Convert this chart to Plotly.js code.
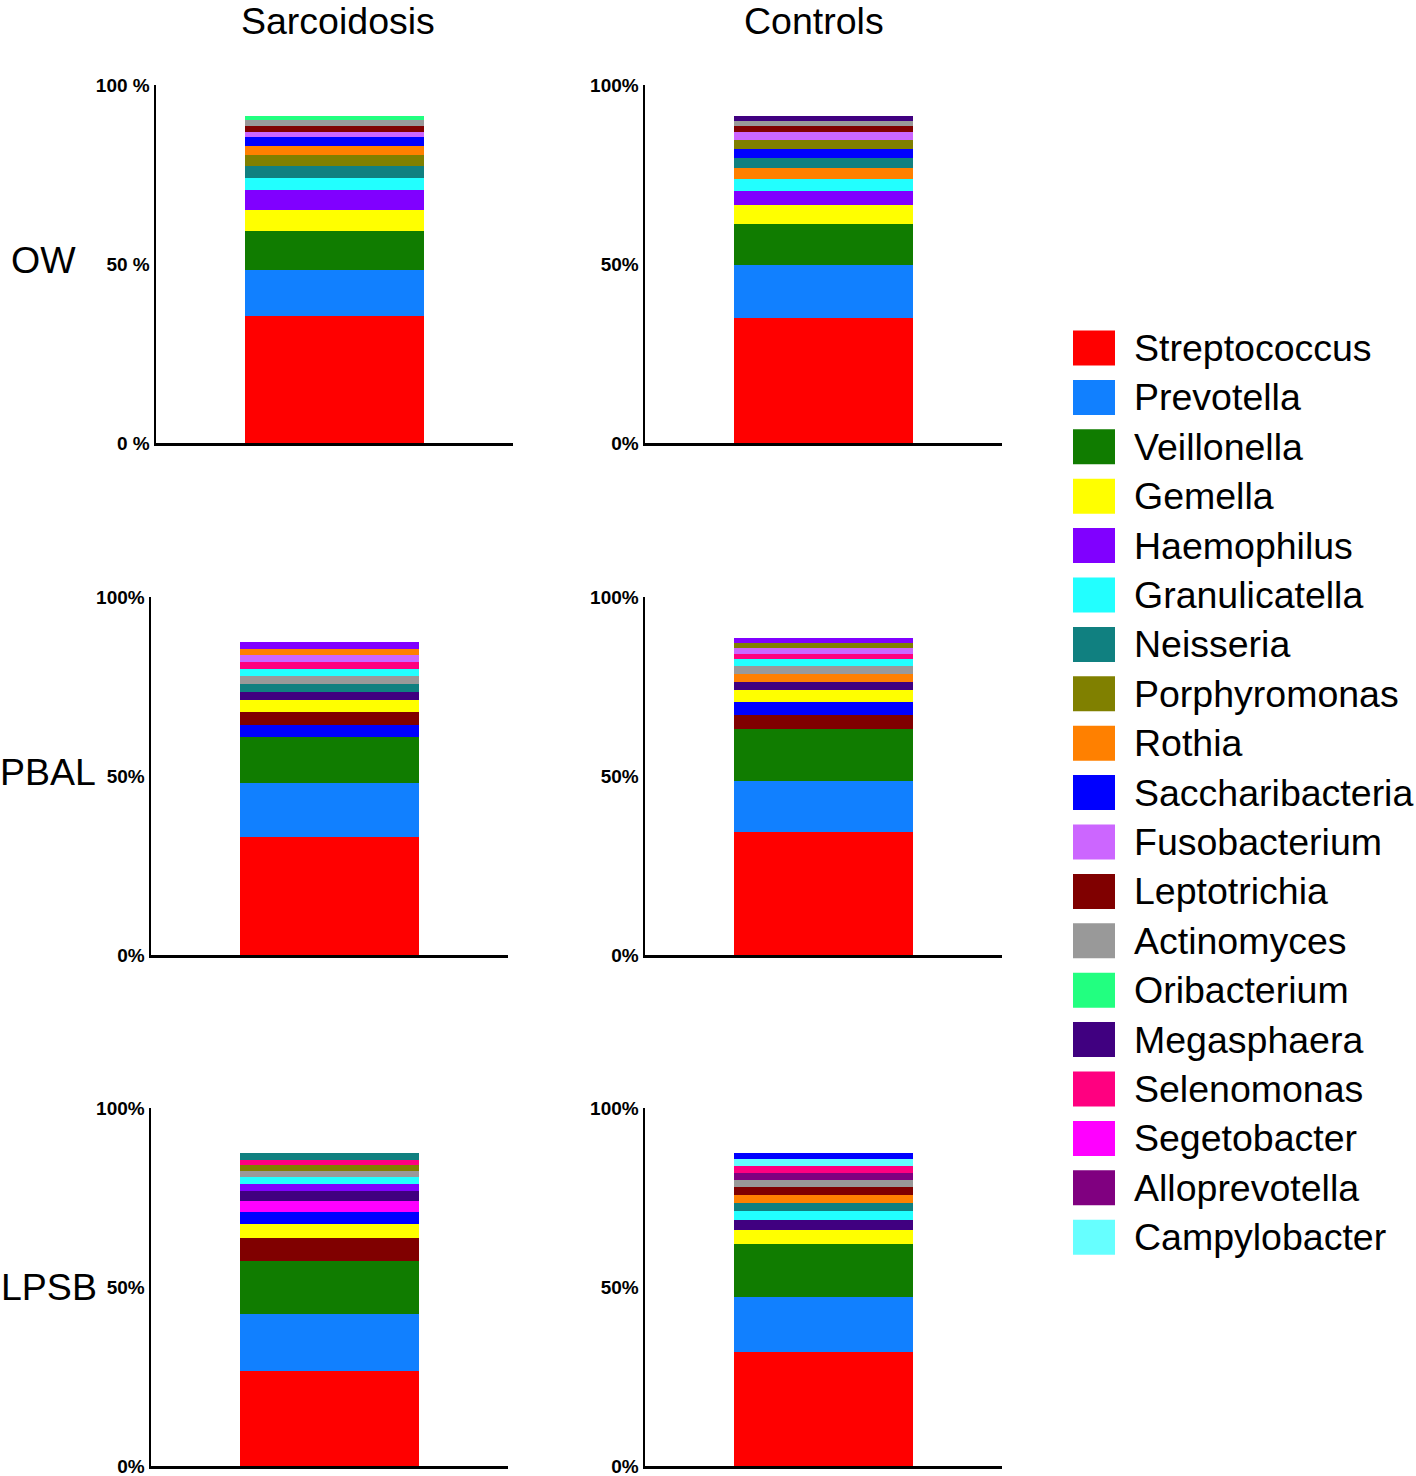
<!DOCTYPE html>
<html>
<head>
<meta charset="utf-8">
<script src="https://cdn.plot.ly/plotly-3.0.1.min.js"></script>
<style>html,body{margin:0;padding:0;background:#fff;}#chart{width:1416px;height:1476px;}</style>
</head>
<body>
<div id="chart"></div>
<script>
// Legend order and colours
const genera = ["Streptococcus","Prevotella","Veillonella","Gemella","Haemophilus","Granulicatella","Neisseria","Porphyromonas","Rothia","Saccharibacteria","Fusobacterium","Leptotrichia","Actinomyces","Oribacterium","Megasphaera","Selenomonas","Segetobacter","Alloprevotella","Campylobacter"];
const genusColors = ["#FF0000","#1180FF","#107C00","#FFFF00","#8000FF","#22FFFF","#108080","#808000","#FF8000","#0000FF","#CC66FF","#800000","#999999","#22FF80","#400080","#FF0080","#FF00FF","#800080","#66FFFF"];

const columnTitles = ["Sarcoidosis","Controls"];
const rowTitles = ["OW","PBAL","LPSB"];

// Each panel: genera in stacking order (bottom -> top) and relative abundance (%)
const owSarcGenera = ["Streptococcus","Prevotella","Veillonella","Gemella","Haemophilus","Granulicatella","Neisseria","Porphyromonas","Rothia","Saccharibacteria","Fusobacterium","Leptotrichia","Actinomyces","Oribacterium"];
const owSarcValues = [35.5,12.8,10.9,5.8,5.6,3.5,3.3,3.1,2.5,2.4,1.6,1.6,1.5,1.2];

const owCtrlGenera = ["Streptococcus","Prevotella","Veillonella","Gemella","Haemophilus","Granulicatella","Rothia","Neisseria","Saccharibacteria","Porphyromonas","Fusobacterium","Leptotrichia","Actinomyces","Megasphaera"];
const owCtrlValues = [34.9,14.8,11.5,5.2,3.9,3.4,3.0,2.8,2.6,2.4,2.3,1.7,1.5,1.4];

const pbalSarcGenera = ["Streptococcus","Prevotella","Veillonella","Saccharibacteria","Leptotrichia","Gemella","Megasphaera","Neisseria","Actinomyces","Granulicatella","Selenomonas","Fusobacterium","Rothia","Haemophilus"];
const pbalSarcValues = [33.0,15.1,12.7,3.5,3.5,3.3,2.3,2.2,2.2,2.1,2.0,1.9,1.8,1.8];

const pbalCtrlGenera = ["Streptococcus","Prevotella","Veillonella","Leptotrichia","Saccharibacteria","Gemella","Megasphaera","Rothia","Actinomyces","Granulicatella","Selenomonas","Fusobacterium","Porphyromonas","Haemophilus"];
const pbalCtrlValues = [34.4,14.2,14.4,4.0,3.7,3.2,2.4,2.2,2.2,1.9,1.6,1.5,1.4,1.4];

const lpsbSarcGenera = ["Streptococcus","Prevotella","Veillonella","Leptotrichia","Gemella","Saccharibacteria","Segetobacter","Megasphaera","Haemophilus","Granulicatella","Actinomyces","Porphyromonas","Selenomonas","Neisseria"];
const lpsbSarcValues = [26.5,15.9,15.0,6.4,3.7,3.4,3.2,2.6,2.0,2.0,1.6,1.7,1.6,1.7];

const lpsbCtrlGenera = ["Streptococcus","Prevotella","Veillonella","Gemella","Megasphaera","Granulicatella","Neisseria","Rothia","Leptotrichia","Actinomyces","Alloprevotella","Selenomonas","Campylobacter","Saccharibacteria"];
const lpsbCtrlValues = [31.8,15.4,14.7,3.9,2.8,2.6,2.4,2.2,2.1,2.0,2.0,2.0,1.9,1.7];

const yTickVals = [0,50,100];
const yTickTextSpaced = ["0 %","50 %","100 %"];
const yTickText = ["0%","50%","100%"];

// ---------- build figure ----------
const W = 1416, H = 1476;
const panels = [
  {g: owSarcGenera,   v: owSarcValues,   ticks: yTickTextSpaced, px:[156,513], py:[443,85]},
  {g: owCtrlGenera,   v: owCtrlValues,   ticks: yTickText,       px:[645,1002], py:[443,85]},
  {g: pbalSarcGenera, v: pbalSarcValues, ticks: yTickText,       px:[151,508], py:[955,597]},
  {g: pbalCtrlGenera, v: pbalCtrlValues, ticks: yTickText,       px:[645,1002], py:[955,597]},
  {g: lpsbSarcGenera, v: lpsbSarcValues, ticks: yTickText,       px:[151,508], py:[1466,1108]},
  {g: lpsbCtrlGenera, v: lpsbCtrlValues, ticks: yTickText,       px:[645,1002], py:[1466,1108]}
];

const FONT = "Liberation Sans, Arial, Helvetica, sans-serif";
const traces = [];
const layout = {
  width: W, height: H, autosize: false,
  margin: {l:0, r:0, t:0, b:0, pad:0},
  paper_bgcolor: "#ffffff", plot_bgcolor: "#ffffff",
  barmode: "stack",
  showlegend: false,
  font: {family: FONT, color: "#000"},
  annotations: [], shapes: []
};

panels.forEach((p, k) => {
  const n = k + 1;
  const xa = "x" + (n === 1 ? "" : n), ya = "y" + (n === 1 ? "" : n);
  p.g.forEach((name, i) => {
    traces.push({
      type: "bar", x: [0], y: [p.v[i]], width: [1], name: name,
      marker: {color: genusColors[genera.indexOf(name)], line: {width: 0}},
      xaxis: xa, yaxis: ya, showlegend: false, hoverinfo: "name+y"
    });
  });
  layout["xaxis" + (n === 1 ? "" : n)] = {
    domain: [p.px[0] / W, p.px[1] / W], range: [-1, 1], anchor: ya,
    showgrid: false, zeroline: false, showticklabels: false, ticks: "",
    showline: true, linecolor: "#000", linewidth: 2.5, fixedrange: true
  };
  layout["yaxis" + (n === 1 ? "" : n)] = {
    domain: [1 - p.py[0] / H, 1 - p.py[1] / H], range: [0, 100], anchor: xa,
    showgrid: false, zeroline: false, ticks: "",
    tickvals: yTickVals, ticktext: p.ticks,
    tickfont: {family: FONT, size: 19, weight: "bold", color: "#000"},
    ticklabelstandoff: 0, ticklabeloverflow: "allow",
    showline: true, linecolor: "#000", linewidth: 2.5, fixedrange: true
  };
});

// column & row titles
[337.5, 814].forEach((cx, i) => {
  layout.annotations.push({text: columnTitles[i], x: cx / W, y: 1, xref: "paper", yref: "paper",
    xanchor: "center", yanchor: "top", yshift: 2, showarrow: false, font: {family: FONT, size: 37.5, color: "#000"}});
});
[[43.5, 260], [48, 772], [49, 1287]].forEach((c, i) => {
  layout.annotations.push({text: rowTitles[i], x: c[0] / W, y: 1 - c[1] / H, xref: "paper", yref: "paper",
    xanchor: "center", yanchor: "middle", showarrow: false, font: {family: FONT, size: 37.5, color: "#000"}});
});

// legend (swatches + labels) built from genera / genusColors
genera.forEach((name, i) => {
  const yc = 348 + i * 49.4;
  layout.shapes.push({type: "rect", xref: "paper", yref: "paper",
    x0: 1073 / W, x1: 1115 / W, y0: 1 - (yc + 17.5) / H, y1: 1 - (yc - 17.5) / H,
    fillcolor: genusColors[i], line: {width: 0}});
  layout.annotations.push({text: name, x: 1132 / W, y: 1 - yc / H, xref: "paper", yref: "paper",
    xanchor: "left", yanchor: "middle", showarrow: false, font: {family: FONT, size: 37.5, color: "#000"}});
});

Plotly.newPlot("chart", traces, layout, {staticPlot: true, displayModeBar: false});
</script>
</body>
</html>
